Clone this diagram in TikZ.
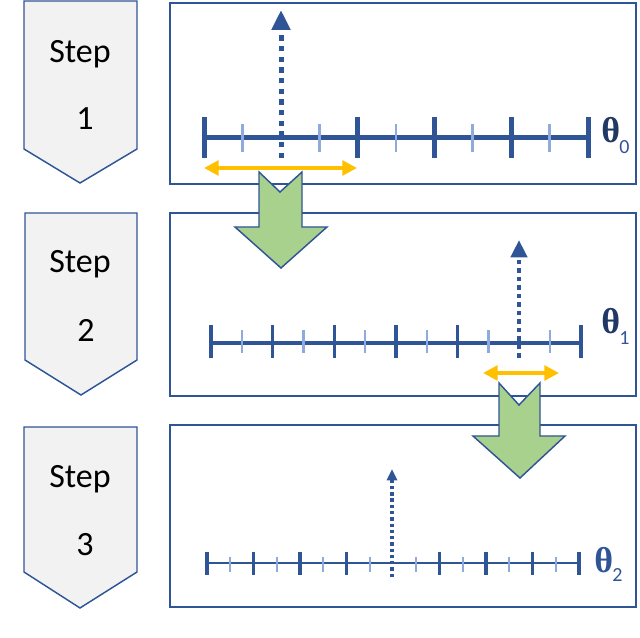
\documentclass[tikz,border=0pt]{standalone}
\usepackage{fontspec}
\setmainfont{Carlito}
\newfontfamily\thfont{Liberation Serif}
\usetikzlibrary{arrows.meta}
\definecolor{dblue}{HTML}{2F5597}
\definecolor{lblue}{HTML}{8FAADC}
\definecolor{orng}{HTML}{FFC000}
\definecolor{grn}{HTML}{A9D18E}
\definecolor{lgray}{HTML}{F2F2F2}
\definecolor{navy}{HTML}{203864}
\tikzset{
  panel/.style={draw=dblue, line width=1.5pt},
  stepbox/.style={draw=dblue, fill=lgray, line width=1.1pt, line join=miter},
  steptext/.style={font=\fontsize{25.5}{30}\selectfont, anchor=base, inner sep=0pt, text=black},
  bigarrow/.style={draw=dblue, fill=grn, line width=1.1pt, line join=miter},
  rangearrow/.style={orng, line width=3pt, {Triangle[length=11pt,width=11pt]}-{Triangle[length=11pt,width=11pt]}},
  thsym/.style={text=navy, font=\thfont\bfseries\fontsize{27}{30}\selectfont, anchor=base west, inner sep=0pt},
  thsub/.style={text=dblue, font=\fontsize{15}{18}\selectfont, anchor=base west, inner sep=0pt}
}
\begin{document}
\begin{tikzpicture}[x=0.75pt,y=-0.75pt]
\useasboundingbox (0,0) rectangle (640,638);

% panels
\draw[panel] (170,3) rectangle (636,184);
\draw[panel] (170,213) rectangle (636,396);
\draw[panel] (170,425) rectangle (636,607);

% step pentagons
\draw[stepbox] (24,1) -- (137,1) -- (137,149) -- (80,183) -- (24,149) -- cycle;
\draw[stepbox] (25,213) -- (137,213) -- (137,360) -- (81,395) -- (25,360) -- cycle;
\draw[stepbox] (24,427) -- (137,427) -- (137,572) -- (80,608) -- (24,572) -- cycle;
\node[steptext] (s1a) at (80,63) {Step};
\node[steptext] (s1b) at (85,130) {1};
\node[steptext] (s2a) at (80,273) {Step};
\node[steptext] (s2b) at (86,342) {2};
\node[steptext] (s3a) at (80,487) {Step};
\node[steptext] (s3b) at (85,555) {3};

% axis 1
\draw[dblue, line width=3.75pt] (204,138) -- (588,138);
\foreach \k in {1,3,5,7,9} \draw[lblue, line width=2.2pt] ({204+38.4*\k},124) -- ({204+38.4*\k},152);
\foreach \k in {0,4,6,8,10} \draw[dblue, line width=3.75pt] ({204+38.4*\k},117) -- ({204+38.4*\k},158);
\coordinate (a1s) at (281,158);
\coordinate (a1e) at (281,10);
\draw[dblue, line width=3.75pt, dash pattern=on 4.1pt off 3.9pt, -{Triangle[length=15pt,width=13.5pt]}] (a1s) -- (a1e);
\node[thsym] (th0) at (601,143) {θ};
\node[thsub] (th0s) at (619,154) {0};

% axis 2
\draw[dblue, line width=2.4pt] (211,343) -- (581,343);
\foreach \k in {1,3,5,7,9,11} \draw[lblue, line width=1.6pt] ({211+30.83*\k},330) -- ({211+30.83*\k},353);
\foreach \k in {0,2,4,6,8,12} \draw[dblue, line width=2.6pt] ({211+30.83*\k},325) -- ({211+30.83*\k},358);
\coordinate (a2s) at (519,358);
\coordinate (a2e) at (519,240);
\draw[dblue, line width=3.2pt, dash pattern=on 3.4pt off 3pt, -{Triangle[length=13pt,width=12pt]}] (a2s) -- (a2e);
\node[thsym] (th1) at (601,334) {θ};
\node[thsub] (th1s) at (619,345) {1};

% axis 3
\draw[dblue, line width=2.2pt] (207,563) -- (579,563);
\foreach \k in {1,3,5,7,9,11,13,15} \draw[lblue, line width=1.5pt] ({207+23.25*\k},557) -- ({207+23.25*\k},572);
\foreach \k in {0,2,4,6,10,12,14,16} \draw[dblue, line width=2.4pt] ({207+23.25*\k},552) -- ({207+23.25*\k},575);
\coordinate (a3s) at (392,577);
\coordinate (a3e) at (392,469);
\draw[dblue, line width=2.4pt, dash pattern=on 2.5pt off 2.2pt, -{Triangle[length=8.5pt,width=7.5pt]}] (a3s) -- (a3e);
\node[thsym, text=dblue] (th2) at (594,572) {θ};
\node[thsub] (th2s) at (612,581) {2};

% orange range arrows
\coordinate (r1a) at (204,168);
\coordinate (r1b) at (357,168);
\draw[rangearrow] (r1a) -- (r1b);
\coordinate (r2a) at (483,373);
\coordinate (r2b) at (559,373);
\draw[rangearrow] (r2a) -- (r2b);

% green block arrows
\draw[bigarrow] (259,172) -- (280,192) -- (302,172) -- (302,227) -- (327,227) -- (281,268) -- (235,227) -- (259,227) -- cycle;
\draw[bigarrow] (499,383) -- (519,405) -- (540,383) -- (540,436) -- (565,436) -- (520,478) -- (473,436) -- (499,436) -- cycle;
\end{tikzpicture}
\end{document}
